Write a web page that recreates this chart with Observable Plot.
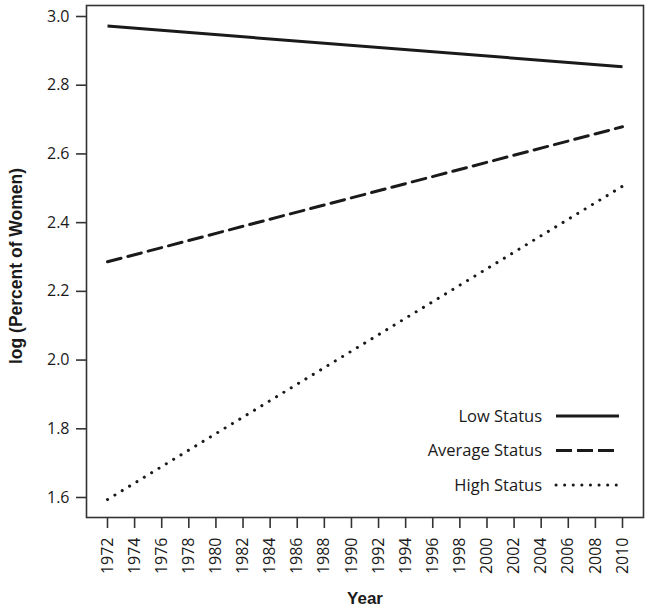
<!DOCTYPE html>
<html>
<head>
<meta charset="utf-8">
<script src="https://cdn.jsdelivr.net/npm/d3@7"></script>
<script src="https://cdn.jsdelivr.net/npm/@observablehq/plot@0.6"></script>
<style>
  html, body { margin: 0; padding: 0; background: #fff; }
  #chart svg { display: block; font-family: "Open Sans", sans-serif; }
  #chart svg g[aria-label^="x-axis"] text,
  #chart svg g[aria-label^="y-axis"] text { font-size: 16px !important; fill: #1a1a1a; }
</style>
</head>
<body>
<div id="chart"></div>
<script>
const years = [1972, 2010];
const lowStatus = [2.972, 2.854];
const averageStatus = [2.286, 2.679];
const highStatus = [1.594, 2.506];
const seriesNames = ["Low Status", "Average Status", "High Status"];
const xTicks = [1972, 1974, 1976, 1978, 1980, 1982, 1984, 1986, 1988, 1990, 1992,
                1994, 1996, 1998, 2000, 2002, 2004, 2006, 2008, 2010];
const yTicks = [1.6, 1.8, 2.0, 2.2, 2.4, 2.6, 2.8, 3.0];
const xLabel = "Year";
const yLabel = "log (Percent of Women)";

const seriesValues = [lowStatus, averageStatus, highStatus];
const styles = [
  {strokeDasharray: null, strokeLinecap: "butt"},
  {strokeDasharray: "14,7", strokeLinecap: "round"},
  {strokeDasharray: "0.1,8.5", strokeLinecap: "round"}
];
const ink = "#1a1a1a";

const rows = seriesNames.map((name, i) =>
  years.map((yr, j) => ({series: name, year: yr, value: seriesValues[i][j]})));

function legend(index, scales, values, dims) {
  const g = d3.create("svg:g");
  const right = dims.width - dims.marginRight;
  const bottom = dims.height - dims.marginBottom;
  seriesNames.forEach((name, i) => {
    const y = bottom - 101 + i * 34.5;
    g.append("text")
      .attr("x", right - 101).attr("y", y)
      .attr("dy", "0.35em")
      .attr("text-anchor", "end")
      .style("font-size", "16.5px")
      .attr("fill", ink)
      .text(name);
    const line = g.append("line")
      .attr("x1", right - 87).attr("x2", right - 24)
      .attr("y1", y).attr("y2", y)
      .attr("stroke", ink)
      .attr("stroke-width", 3)
      .attr("stroke-linecap", styles[i].strokeLinecap);
    if (styles[i].strokeDasharray) line.attr("stroke-dasharray", styles[i].strokeDasharray);
    if (i === 1) line.attr("stroke-dasharray", "16,5").attr("stroke-linecap", "butt");
  });
  return g.node();
}

const plot = Plot.plot({
  width: 650,
  height: 611,
  marginLeft: 86,
  marginRight: 7,
  marginTop: 5,
  marginBottom: 94,
  style: {fontFamily: "'Open Sans', sans-serif", color: ink},
  x: {domain: [1972, 2010], insetLeft: 21, insetRight: 21},
  y: {domain: [1.6, 3.0], insetTop: 11, insetBottom: 20},
  marks: [
    Plot.frame({stroke: "#333", strokeWidth: 1.6}),
    Plot.axisX({ticks: xTicks, tickFormat: d => String(d), tickRotate: -90,
      tickSize: 11, tickPadding: 9, label: null, fontSize: 16,
      stroke: "#333", strokeWidth: 1.6}),
    Plot.axisY({ticks: yTicks, tickFormat: d3.format(".1f"),
      tickSize: 10, tickPadding: 7, label: null, fontSize: 16,
      stroke: "#333", strokeWidth: 1.6}),
    ...rows.map((r, i) => Plot.line(r, {
      x: "year", y: "value", stroke: ink, strokeWidth: 3,
      strokeDasharray: styles[i].strokeDasharray || undefined,
      strokeLinecap: styles[i].strokeLinecap
    })),
    Plot.text([xLabel], {frameAnchor: "bottom", dy: 81, text: d => d,
      textAnchor: "middle", lineAnchor: "middle",
      fontFamily: "'Liberation Sans', Arial, sans-serif",
      fontWeight: "bold", fontSize: 17, fill: ink}),
    Plot.text([yLabel], {frameAnchor: "left", dx: -70, dy: 4.5, rotate: -90, text: d => d,
      textAnchor: "middle", lineAnchor: "middle",
      fontFamily: "'Liberation Sans', Arial, sans-serif",
      fontWeight: "bold", fontSize: 17.5, fill: ink}),
    legend
  ]
});
document.getElementById("chart").appendChild(plot);
</script>
</body>
</html>
